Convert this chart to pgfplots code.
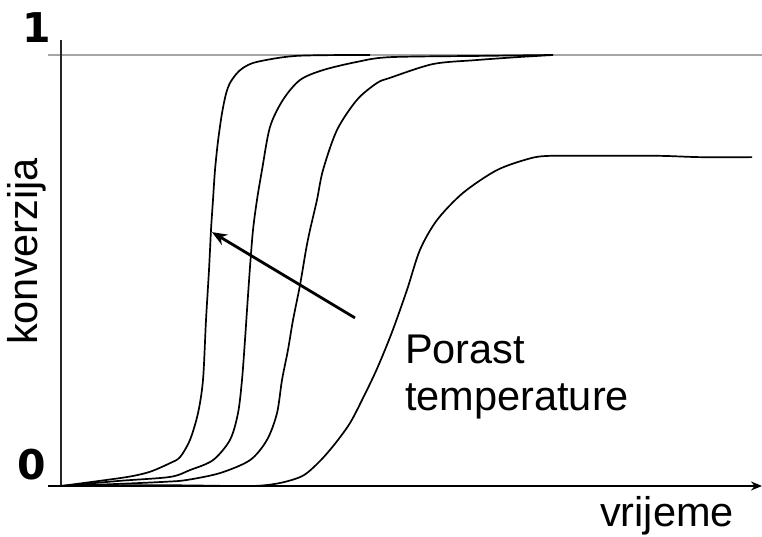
\documentclass[border=0pt]{standalone}
\usepackage{fontspec}
\setmainfont{Liberation Sans}
\newfontfamily\dejavu{DejaVu Sans}
\usepackage{pgfplots}
\pgfplotsset{compat=1.18}
\usetikzlibrary{arrows.meta}

\begin{document}
\begin{tikzpicture}
\useasboundingbox (0,0) rectangle (762pt,537pt);
\begin{axis}[at={(61pt,51pt)}, anchor=south west, scale only axis,
  width=701pt, height=431pt, xmin=0, xmax=701, ymin=0, ymax=1,
  axis lines=none, clip=false, enlargelimits=false, ticks=none]
\draw[gray!70, line width=1.5pt] (axis cs:-13,1) -- (axis cs:701,1);
\draw[black!85, line width=2.8pt] (axis cs:0,-0.003) -- (axis cs:0,1.035);
\draw[black, line width=2.8pt, -{Stealth[length=11pt,width=9pt]}] (axis cs:-13,0) -- (axis cs:701,0);

% curve 1
\addplot[black, line width=1.7pt, smooth, tension=0.5] coordinates {
(0,0) (39,0.012) (69,0.022) (89,0.033) (109,0.053) (119,0.067) (129,0.107)
(137,0.169) (142,0.246) (145,0.385) (148,0.501) (150,0.594) (152,0.664)
(154,0.733) (157,0.800) (161,0.865) (165,0.910) (169,0.935) (175,0.955)
(182,0.970) (196,0.984) (236,0.998) (309,1.0)};

% curve 2
\addplot[black, line width=1.7pt, smooth, tension=0.5] coordinates {
(0,0) (59,0.012) (109,0.021) (129,0.037) (152,0.060) (169,0.107) (177,0.169)
(181,0.246) (184,0.339) (186,0.408) (189,0.508) (192,0.594) (196,0.664)
(201,0.733) (209,0.833) (222,0.896) (239,0.942) (262,0.965) (296,0.984)
(329,0.995) (422,0.998) (492,1.0)};

% curve 3
\addplot[black, line width=1.7pt, smooth, tension=0.5] coordinates {
(0,0) (59,0.005) (106,0.010) (126,0.014) (159,0.030) (189,0.060) (206,0.107)
(216,0.169) (221,0.246) (227,0.316) (232,0.385) (239,0.466) (245,0.548)
(249,0.594) (256,0.664) (262,0.733) (276,0.826) (296,0.896) (316,0.935)
(329,0.947) (372,0.979) (414,0.988) (456,0.995) (492,1.0)};

% curve 4
\addplot[black, line width=1.7pt, smooth, tension=0.5] coordinates {
(0,0) (89,0.002) (139,0.001) (192,0.0) (219,0.007) (242,0.024) (259,0.058)
(274,0.098) (289,0.146) (302,0.204) (316,0.272) (331,0.357) (346,0.455)
(359,0.548) (376,0.617) (402,0.680) (436,0.733) (469,0.760) (489,0.766)
(539,0.766) (599,0.766) (639,0.763) (691,0.763)};

\draw[black, line width=2.8pt, -{Stealth[length=15pt,width=12pt]}] (axis cs:294,0.390) -- (axis cs:151,0.589);

\node[anchor=base west, inner sep=0pt, font=\fontsize{41.5}{48}\selectfont] at (axis cs:344,0.285) {Porast};
\node[anchor=base west, inner sep=0pt, font=\fontsize{41.5}{48}\selectfont] at (axis cs:344,0.176) {temperature};
\node[anchor=base west, inner sep=0pt, font=\fontsize{41.5}{48}\selectfont] at (axis cs:539,-0.093) {vrijeme};
\node[anchor=base west, rotate=90, inner sep=0pt, font=\fontsize{41.5}{48}\selectfont] at (axis cs:-24,0.327) {konverzija};
\node[anchor=base, inner sep=0pt, font=\fontsize{41}{48}\dejavu\bfseries] at (axis cs:-24,1.030) {1};
\node[anchor=base, inner sep=0pt, font=\fontsize{41}{48}\dejavu\bfseries] at (axis cs:-29,0.014) {0};
\end{axis}
\end{tikzpicture}
\end{document}
